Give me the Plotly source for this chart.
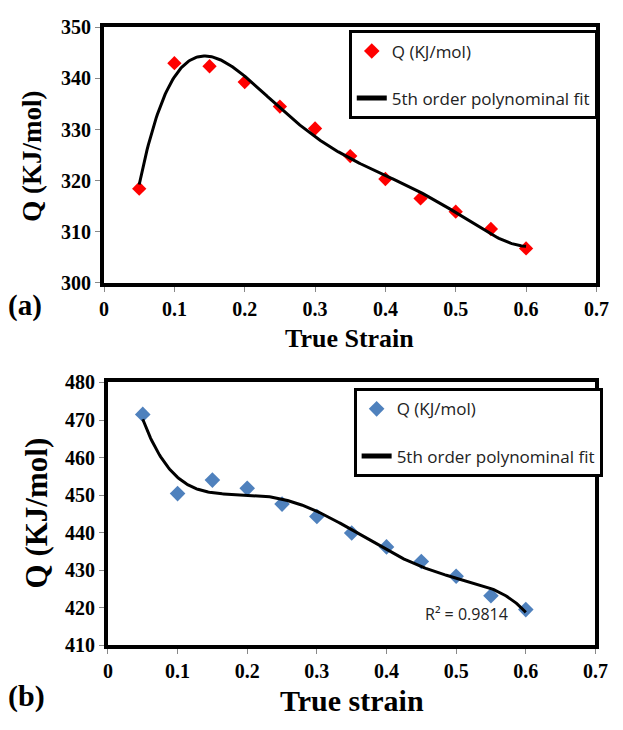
import numpy as np
import plotly.graph_objects as go

# True strain values shared by both panels
strain = [0.05, 0.10, 0.15, 0.20, 0.25, 0.30, 0.35, 0.40, 0.45, 0.50, 0.55, 0.60]

# Activation energy Q (KJ/mol), panel (a) and panel (b)
q_a = [318.4, 343.0, 342.4, 339.3, 334.5, 330.2, 324.8, 320.3, 316.5, 313.9, 310.5, 306.7]
q_b = [471.5, 450.4, 454.0, 451.8, 447.6, 444.3, 439.9, 436.2, 432.3, 428.4, 423.2, 419.5]

x_ticks = [0, 0.1, 0.2, 0.3, 0.4, 0.5, 0.6, 0.7]
r2_label = "R² = 0.9814"

# 5th order polynomial fits through the measured points
xs = np.linspace(min(strain), max(strain), 300)
fit_a = np.polyval(np.polyfit(strain, q_a, 5), xs)
fit_b = np.polyval(np.polyfit(strain, q_b, 5), xs)

serif = "Liberation Serif"
sans = "Open Sans"

fig = go.Figure()

fig.add_trace(go.Scatter(x=strain, y=q_a, mode="markers", name="Q (KJ/mol)",
                         marker=dict(symbol="diamond", size=11, color="#FF0000"),
                         xaxis="x", yaxis="y", legend="legend", legendgroup="a1"))
fig.add_trace(go.Scatter(x=xs, y=fit_a, mode="lines", name="5th order polynominal fit",
                         line=dict(color="black", width=3),
                         xaxis="x", yaxis="y", legend="legend", legendgroup="a2"))
fig.add_trace(go.Scatter(x=strain, y=q_b, mode="markers", name="Q (KJ/mol)",
                         marker=dict(symbol="diamond", size=12, color="#4F81BD"),
                         xaxis="x2", yaxis="y2", legend="legend2", legendgroup="b1"))
fig.add_trace(go.Scatter(x=xs, y=fit_b, mode="lines", name="5th order polynominal fit",
                         line=dict(color="black", width=3),
                         xaxis="x2", yaxis="y2", legend="legend2", legendgroup="b2"))

W, H = 623, 730


def px_x(p):
    return p / W


def px_y(p):
    return 1 - p / H


tick_font = dict(family=serif, size=20, color="black", weight="bold")
axis_common = dict(showline=True, mirror=True, linewidth=4, linecolor="black",
                   showgrid=False, zeroline=False, ticks="outside", ticklen=5,
                   tickwidth=1, tickcolor="#888888", tickfont=tick_font)

legend_common = dict(bgcolor="white", bordercolor="black", borderwidth=3,
                     font=dict(family=sans, size=17, color="#222222"),
                     tracegroupgap=22, xanchor="left", yanchor="top",
                     itemsizing="constant")

fig.update_layout(
    width=W, height=H,
    margin=dict(l=0, r=0, t=0, b=0),
    paper_bgcolor="white", plot_bgcolor="white",
    xaxis=dict(domain=[px_x(102), px_x(609)], range=[0, 0.7], tickvals=x_ticks,
               anchor="y", **axis_common),
    yaxis=dict(domain=[px_y(280), px_y(17)], range=[300, 350], dtick=10,
               anchor="x", **axis_common),
    xaxis2=dict(domain=[px_x(106), px_x(608)], range=[0, 0.7], tickvals=x_ticks,
                anchor="y2", **axis_common),
    yaxis2=dict(domain=[px_y(654), px_y(383)], range=[410, 480], dtick=10,
                anchor="x2", **axis_common),
    legend=dict(x=px_x(354), y=px_y(20), **legend_common),
    legend2=dict(x=px_x(359), y=px_y(389), **legend_common),
    showlegend=True,
)

annotations = [
    dict(text="Q (KJ/mol)", x=px_x(28), y=px_y(150), textangle=-90,
         font=dict(family=serif, size=27, color="black", weight="bold")),
    dict(text="True Strain", x=px_x(355), y=px_y(338),
         font=dict(family=serif, size=26, color="black", weight="bold")),
    dict(text="(a)", x=px_x(21), y=px_y(304),
         font=dict(family=serif, size=29, color="black", weight="bold")),
    dict(text="Q (KJ/mol)", x=px_x(32), y=px_y(518), textangle=-90,
         font=dict(family=serif, size=31, color="black", weight="bold")),
    dict(text="True strain", x=px_x(357), y=px_y(711),
         font=dict(family=serif, size=30, color="black", weight="bold")),
    dict(text="(b)", x=px_x(22), y=px_y(706),
         font=dict(family=serif, size=30, color="black", weight="bold")),
    dict(text=r2_label, x=0.577, y=418.2, xref="x2", yref="y2", xanchor="right",
         yanchor="middle", font=dict(family=sans, size=16, color="#222222")),
]
for a in annotations:
    a.setdefault("xref", "paper")
    a.setdefault("yref", "paper")
    a.setdefault("xanchor", "center")
    a.setdefault("yanchor", "middle")
    a["showarrow"] = False
    fig.add_annotation(**a)

fig.write_html("out.html")
